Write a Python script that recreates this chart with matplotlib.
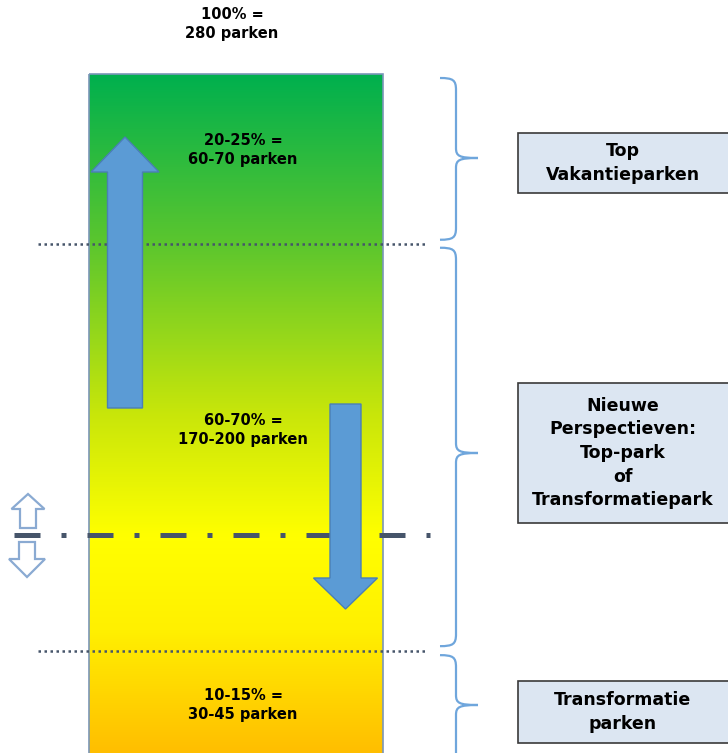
import numpy as np
import matplotlib.pyplot as plt
from matplotlib.path import Path
from matplotlib.patches import PathPatch, Polygon, Rectangle
from matplotlib.colors import LinearSegmentedColormap

# data
total_label = "100% =\n280 parken"
segment_share = [25, 60, 15]  # share of the bar (top -> bottom), %
segment_labels = ["20-25% =\n60-70 parken", "60-70% =\n170-200 parken", "10-15% =\n30-45 parken"]
box_labels = ["Top\nVakantieparken", "Nieuwe\nPerspectieven:\nTop-park\nof\nTransformatiepark",
              "Transformatie\nparken"]

W, H = 728, 753
fig = plt.figure(figsize=(W / 100, H / 100), dpi=100)
ax = fig.add_axes([0, 0, 1, 1])
ax.set_xlim(0, W)
ax.set_ylim(H, 0)
ax.axis("off")

bar_x0, bar_x1 = 89, 383
bar_top, bar_h = 74, 679


def pct_y(p):
    return bar_top + p / 100 * bar_h


bounds = np.concatenate([[0], np.cumsum(segment_share)])
ys = [pct_y(b) for b in bounds]

# gradient bar
cmap = LinearSegmentedColormap.from_list("bar", [
    (0.0, "#00b04e"), (0.25, "#5cc62e"), (0.5, "#c8e60a"),
    (0.68, "#ffff00"), (0.82, "#fff000"), (1.0, "#ffbe00")])
grad = np.linspace(0, 1, 256).reshape(-1, 1)
ax.imshow(grad, cmap=cmap, aspect="auto", extent=[bar_x0, bar_x1, ys[-1], ys[0]], zorder=1)
ax.add_patch(Rectangle((bar_x0, ys[0]), bar_x1 - bar_x0, ys[-1] - ys[0] + 5, fill=False,
                       edgecolor="#7a96b8", lw=1.2, zorder=2))

line_col = "#46556a"
# dotted boundaries
for y in ys[1:-1]:
    ax.plot([38, 428], [y, y], color=line_col, lw=1.8, ls=(0, (1, 1.4)), zorder=3)

# dash-dot marker line
ax.plot([14, 430], [535, 535], color=line_col, lw=3.6, ls=(0, (5.2, 4.2, 1, 4.2)),
        solid_capstyle="butt", dash_capstyle="butt", zorder=4)


# blue arrows
def block_arrow(xc, y_tail, y_tip, shaft_w, head_w, head_l, **kw):
    d = 1 if y_tip > y_tail else -1
    yb = y_tip - d * head_l
    pts = [(xc - shaft_w / 2, y_tail), (xc - shaft_w / 2, yb), (xc - head_w / 2, yb),
           (xc, y_tip), (xc + head_w / 2, yb), (xc + shaft_w / 2, yb), (xc + shaft_w / 2, y_tail)]
    ax.add_patch(Polygon(pts, closed=True, **kw))


blue = dict(facecolor="#5b9bd5", edgecolor="#4a7fb5", lw=1, zorder=5)
block_arrow(125, 408, 137, 35, 68, 35, **blue)
block_arrow(345.5, 404, 609, 31, 64, 31, **blue)

hollow = dict(facecolor="white", edgecolor="#8aaad2", lw=1.6, zorder=5)
block_arrow(28, 528, 494, 16, 33, 15, **hollow)
block_arrow(27, 542, 577, 16, 36, 18, **hollow)

# segment labels
font = dict(fontsize=10.5, fontweight="bold", ha="center", va="center", linespacing=1.3, zorder=6)
ax.text(232, 24, total_label, **font)
label_y = [150, 430, 705]
for lab, y in zip(segment_labels, label_y):
    ax.text(243, y, lab, **font)

# braces and boxes
brace_col = "#6fa6dc"
brace_tip = [158, 453, 705]
brace_end = [ys[1] - 4, ys[2] - 5, H + 30]
for i in range(3):
    y0 = ys[i] + 4
    y1 = brace_end[i]
    ym = brace_tip[i]
    xb = 456
    verts = [(xb - 16, y0), (xb - 3, y0), (xb, y0 + 2), (xb, y0 + 12),
             (xb, ym - 10), (xb, ym - 2), (xb + 3, ym), (xb + 22, ym),
             (xb + 3, ym), (xb, ym + 2), (xb, ym + 10),
             (xb, y1 - 12), (xb, y1 - 2), (xb - 3, y1), (xb - 16, y1)]
    codes = [Path.MOVETO, Path.CURVE4, Path.CURVE4, Path.CURVE4,
             Path.LINETO, Path.CURVE4, Path.CURVE4, Path.CURVE4,
             Path.CURVE4, Path.CURVE4, Path.CURVE4,
             Path.LINETO, Path.CURVE4, Path.CURVE4, Path.CURVE4]
    ax.add_patch(PathPatch(Path(verts, codes), fill=False, edgecolor=brace_col, lw=1.6,
                           zorder=3))

box_cy = [163, 453, 712]
box_h = [60, 140, 62]
for lab, cy, h in zip(box_labels, box_cy, box_h):
    ax.add_patch(Rectangle((518, cy - h / 2), 216, h, facecolor="#dce6f2",
                           edgecolor="#3a3a3a", lw=1.2, zorder=4))
    ax.text(623, cy, lab, fontsize=12.5, fontweight="bold", ha="center", va="center",
            linespacing=1.4, zorder=6)

fig.savefig("out.png", dpi=100)
